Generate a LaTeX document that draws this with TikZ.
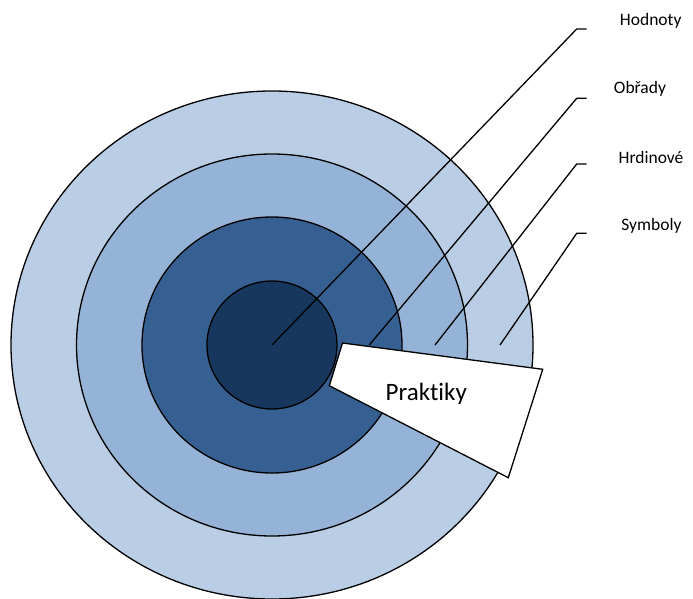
\documentclass[tikz,border=0pt]{standalone}
\usepackage{fontspec}
\setmainfont[Ligatures=NoCommon]{Carlito}
\usetikzlibrary{calc,positioning}
\definecolor{ringA}{HTML}{B9CDE5}
\definecolor{ringB}{HTML}{95B3D7}
\definecolor{ringC}{HTML}{376092}
\definecolor{ringD}{HTML}{17375E}

\begin{document}
\begin{tikzpicture}[x=1pt,y=-1pt,line width=1.3pt,
  lbl/.style={font=\fontsize{17.5}{21}\selectfont,anchor=base west,inner sep=0pt}]
\useasboundingbox (0,0) rectangle (693,599);
\coordinate (M) at (272,345);
% rings, outside in
\draw[fill=ringA] (M) ellipse [x radius=261pt,y radius=254pt];
\draw[fill=ringB] (M) ellipse [x radius=195.5pt,y radius=191pt];
\draw[fill=ringC] (M) ellipse [x radius=130pt,y radius=128pt];
\draw[fill=ringD] (M) ellipse [x radius=65pt,y radius=64pt];
% wedge
\draw[fill=white,line join=miter] (342.5,343) coordinate(W1) -- (542.7,369.3) coordinate(W2) -- (508.3,477.7) coordinate(W3) -- (329.3,385.7) coordinate(W4) -- cycle;
\node[font=\fontsize{25}{30}\selectfont,anchor=base west,inner sep=0pt] (prak) at (385,400) {Praktiky};
% labels
\node[lbl] (hod) at (619.3,26) {Hodnoty};
\node[lbl] (obr) at (613.3,94) {Obřady};
\node[lbl] (hrd) at (618,163.3) {Hrdinové};
\node[lbl] (sym) at (620.7,230) {Symboly};
% leader lines
\coordinate (sObr) at (369.3,345);
\coordinate (sHrd) at (435,345);
\coordinate (sSym) at (500,345);
\draw (M) -- (576.7,29) coordinate(bHod) -- ++(10,0) coordinate(eHod);
\draw (sObr) -- (576.7,98.3) coordinate(bObr) -- ++(10,0) coordinate(eObr);
\draw (sHrd) -- (576.7,164) coordinate(bHrd) -- ++(10,0) coordinate(eHrd);
\draw (sSym) -- (576.7,233.3) coordinate(bSym) -- ++(10,0) coordinate(eSym);
\end{tikzpicture}
\end{document}
